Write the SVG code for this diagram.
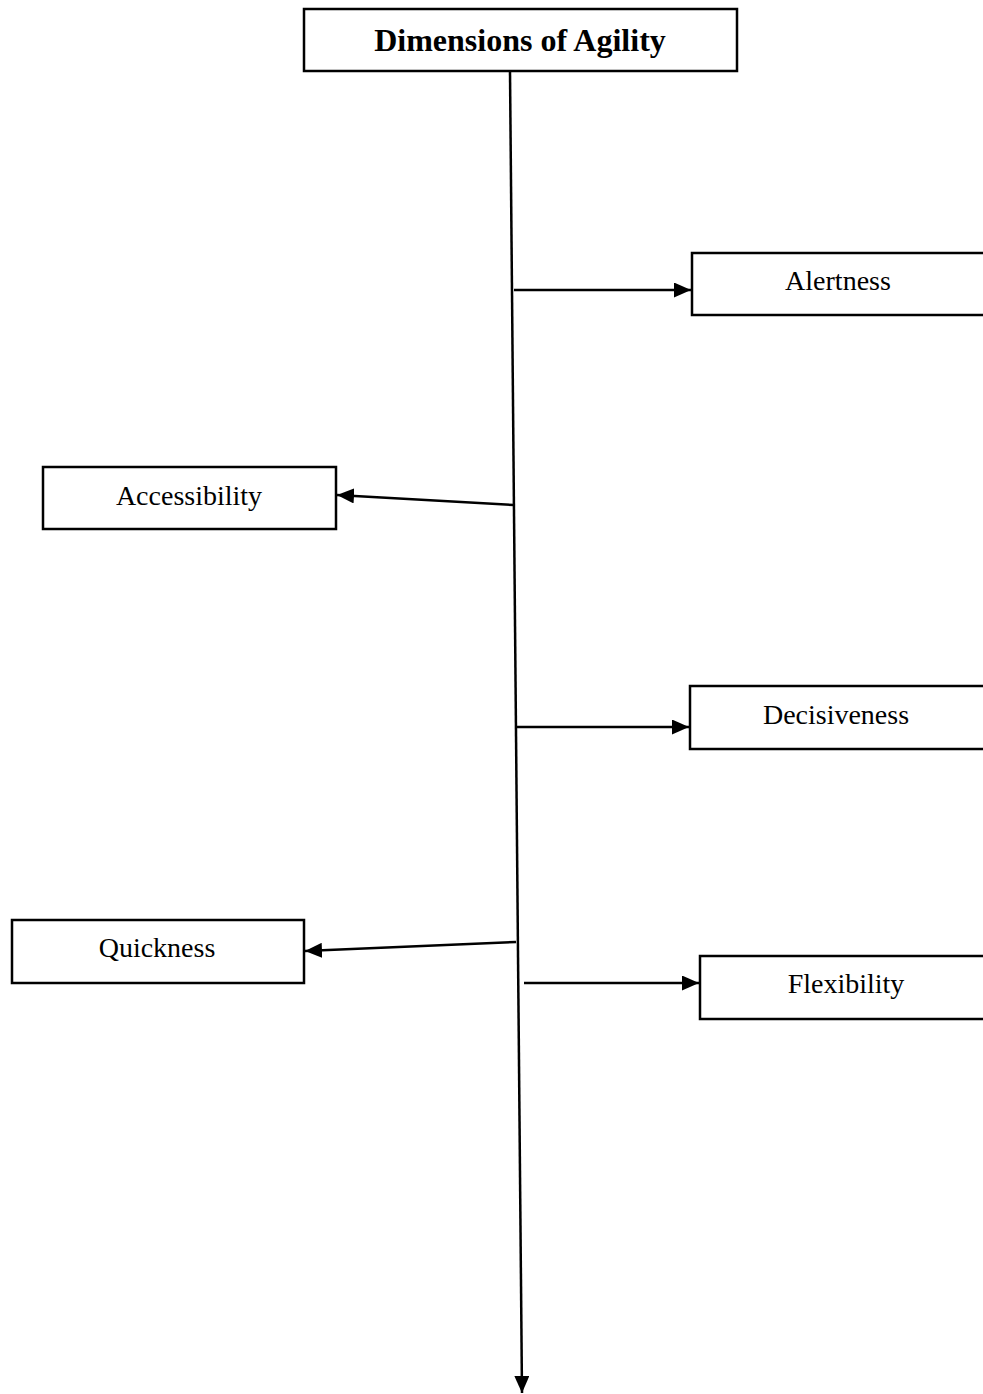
<svg xmlns="http://www.w3.org/2000/svg" width="983" height="1394" viewBox="0 0 983 1394">
  <style>
    .box { fill: #fff; stroke: #000; stroke-width: 2.5; }
    .lbl { font-family: "Liberation Serif", "Times New Roman", serif; font-size: 28px; fill: #000; text-anchor: middle; }
    .title { font-family: "Liberation Serif", "Times New Roman", serif; font-size: 32px; font-weight: bold; fill: #000; text-anchor: middle; }
    .conn { stroke: #000; stroke-width: 2.5; fill: none; }
  </style>
  <defs>
    <marker id="arrow" markerUnits="userSpaceOnUse" markerWidth="17" markerHeight="15" refX="17" refY="7.5" orient="auto">
      <path d="M0,0 L17,7.5 L0,15 z" fill="#000"/>
    </marker>
  </defs>
  <rect width="983" height="1394" fill="#fff"/>

  <g id="connectors">
    <line class="conn" x1="510" y1="72" x2="522" y2="1393" marker-end="url(#arrow)"/>
    <line class="conn" x1="514" y1="290" x2="691" y2="290" marker-end="url(#arrow)"/>
    <line class="conn" x1="514" y1="505" x2="337" y2="495" marker-end="url(#arrow)"/>
    <line class="conn" x1="517" y1="727" x2="689" y2="727" marker-end="url(#arrow)"/>
    <line class="conn" x1="516" y1="942" x2="305" y2="951" marker-end="url(#arrow)"/>
    <line class="conn" x1="524" y1="983" x2="699" y2="983" marker-end="url(#arrow)"/>
  </g>

  <g id="node-title">
    <rect class="box" x="304" y="9" width="433" height="62"/>
    <text class="title" x="520" y="51">Dimensions of Agility</text>
  </g>
  <g id="node-alertness">
    <rect class="box" x="692" y="253" width="300" height="62"/>
    <text class="lbl" x="838" y="290">Alertness</text>
  </g>
  <g id="node-accessibility">
    <rect class="box" x="43" y="467" width="293" height="62"/>
    <text class="lbl" x="189" y="505">Accessibility</text>
  </g>
  <g id="node-decisiveness">
    <rect class="box" x="690" y="686" width="300" height="63"/>
    <text class="lbl" x="836" y="724">Decisiveness</text>
  </g>
  <g id="node-quickness">
    <rect class="box" x="12" y="920" width="292" height="63"/>
    <text class="lbl" x="157" y="957">Quickness</text>
  </g>
  <g id="node-flexibility">
    <rect class="box" x="700" y="956" width="300" height="63"/>
    <text class="lbl" x="846" y="993">Flexibility</text>
  </g>
</svg>
